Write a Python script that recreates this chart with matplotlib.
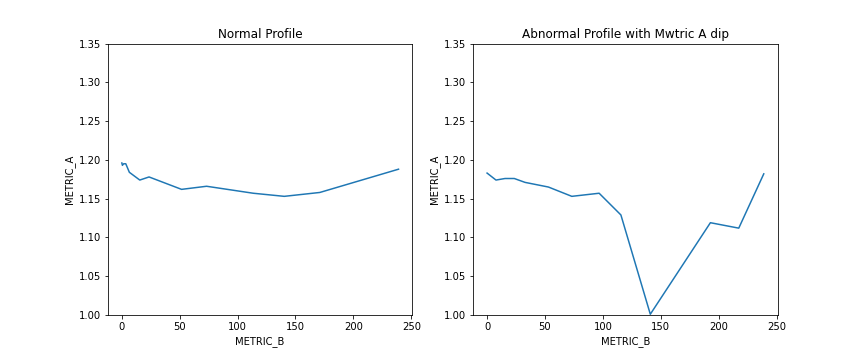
import matplotlib
matplotlib.use('Agg')
import matplotlib.pyplot as plt

# normal profile
normal_b = [0, 0.5, 1.6, 3.4, 6.5, 15.5, 23.5, 51.6, 73.2, 113.5, 140.3, 171, 239]
normal_a = [1.196, 1.193, 1.195, 1.195, 1.184, 1.174, 1.178, 1.162, 1.166, 1.157, 1.153, 1.158, 1.188]

# abnormal profile with the dip (right panel)
abnormal_b = [0, 7.7, 15.5, 23.5, 32.8, 53, 73.2, 96.8, 115.6, 141, 192.9, 217.4, 239]
abnormal_a = [1.183, 1.174, 1.176, 1.176, 1.171, 1.165, 1.153, 1.157, 1.129, 1.001, 1.119, 1.112, 1.182]

fig, axes = plt.subplots(1, 2, figsize=(12, 5), dpi=72)
fig.subplots_adjust(left=0.125, right=0.9, bottom=0.125, top=0.879, wspace=0.2)

panels = [(normal_b, normal_a, 'Normal Profile'),
          (abnormal_b, abnormal_a, 'Abnormal Profile with Mwtric A dip')]

for ax, (xb, ya, title) in zip(axes, panels):
    ax.plot(xb, ya, color='#1f77b4')
    ax.set_ylim(1.0, 1.35)
    ax.set_xticks([0, 50, 100, 150, 200, 250])
    ax.set_xlabel('METRIC_B')
    ax.set_ylabel('METRIC_A')
    ax.set_title(title)

fig.savefig('out.png', dpi=72)
